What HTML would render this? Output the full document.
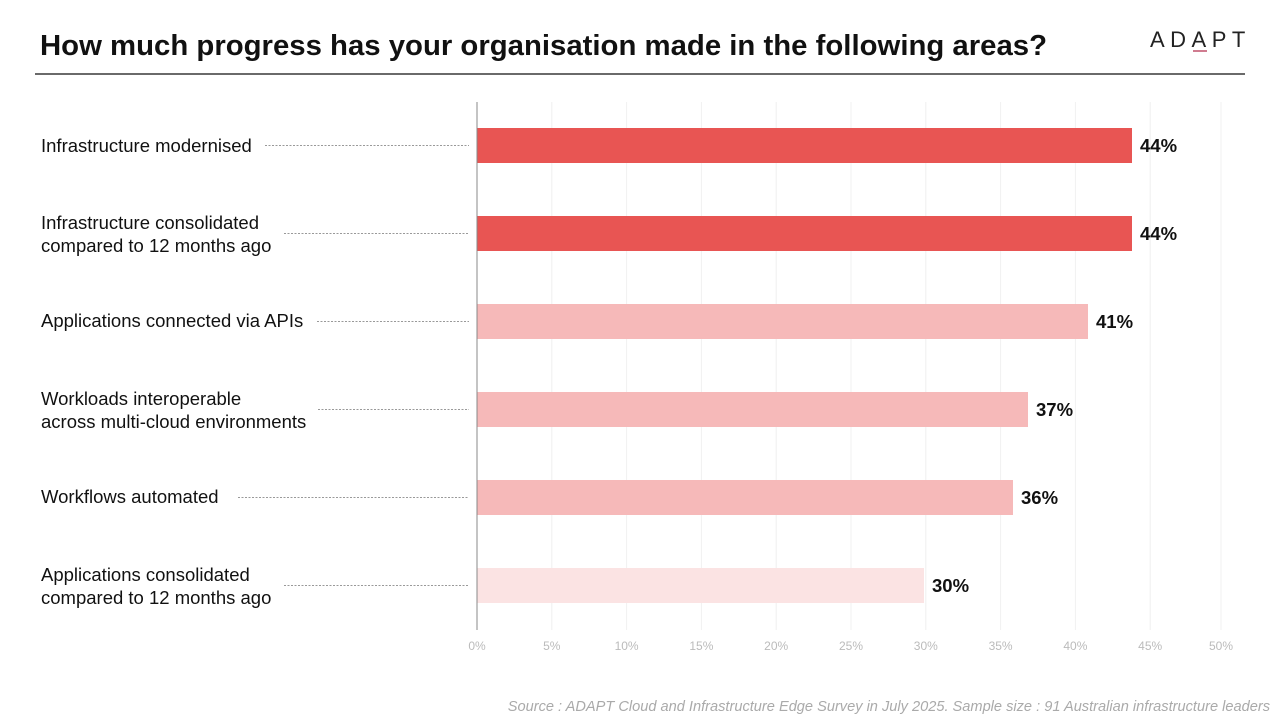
<!DOCTYPE html>
<html><head><style>body{margin:0;background:#fff}svg{display:block;font-family:"Liberation Sans",Arial,sans-serif}</style></head><body>
<svg width="1280" height="720" viewBox="0 0 1280 720">
<text x="40" y="55" font-size="29" font-weight="bold" fill="#111" textLength="1007" lengthAdjust="spacingAndGlyphs">How much progress has your organisation made in the following areas?</text>
<g font-size="22" fill="#222" letter-spacing="5.5"><text x="1150" y="47">ADAPT</text></g>
<line x1="1193" y1="51" x2="1207" y2="51" stroke="#c0506a" stroke-width="1.5"/>
<line x1="35" y1="74" x2="1245" y2="74" stroke="#111" stroke-width="1.3"/>
<g stroke="#f0f0f0" stroke-width="1">
<line x1="551.8" y1="102" x2="551.8" y2="630"/><line x1="626.6" y1="102" x2="626.6" y2="630"/><line x1="701.4" y1="102" x2="701.4" y2="630"/><line x1="776.2" y1="102" x2="776.2" y2="630"/><line x1="851" y1="102" x2="851" y2="630"/><line x1="925.8" y1="102" x2="925.8" y2="630"/><line x1="1000.6" y1="102" x2="1000.6" y2="630"/><line x1="1075.4" y1="102" x2="1075.4" y2="630"/><line x1="1150.2" y1="102" x2="1150.2" y2="630"/><line x1="1221" y1="102" x2="1221" y2="630"/>
</g>
<g>
<rect x="477" y="128" width="655" height="35" fill="#e85553"/>
<rect x="477" y="216" width="655" height="35" fill="#e85553"/>
<rect x="477" y="304" width="611" height="35" fill="#f6b9b9"/>
<rect x="477" y="392" width="551" height="35" fill="#f6b9b9"/>
<rect x="477" y="480" width="536" height="35" fill="#f6b9b9"/>
<rect x="477" y="568" width="447" height="35" fill="#fbe3e3"/>
</g>
<line x1="477" y1="102" x2="477" y2="630" stroke="#888" stroke-width="1"/>
<g font-size="18.5" font-weight="bold" fill="#111">
<text x="1140" y="152">44%</text><text x="1140" y="240">44%</text><text x="1096" y="328">41%</text><text x="1036" y="416">37%</text><text x="1021" y="504">36%</text><text x="932" y="592">30%</text>
</g>
<g font-size="18.5" fill="#111">
<text x="41" y="152">Infrastructure modernised</text>
<text x="41" y="229">Infrastructure consolidated</text><text x="41" y="252">compared to 12 months ago</text>
<text x="41" y="327">Applications connected via APIs</text>
<text x="41" y="405">Workloads interoperable</text><text x="41" y="428">across multi-cloud environments</text>
<text x="41" y="503">Workflows automated</text>
<text x="41" y="581">Applications consolidated</text><text x="41" y="604">compared to 12 months ago</text>
</g>
<g stroke="#999" stroke-width="1" stroke-dasharray="2,1.5">
<line x1="265" y1="145.5" x2="469" y2="145.5"/><line x1="284" y1="233.5" x2="469" y2="233.5"/><line x1="317" y1="321.5" x2="469" y2="321.5"/><line x1="318" y1="409.5" x2="469" y2="409.5"/><line x1="238" y1="497.5" x2="469" y2="497.5"/><line x1="284" y1="585.5" x2="469" y2="585.5"/>
</g>
<g font-size="12" fill="#bbb" text-anchor="middle">
<text x="477" y="650">0%</text><text x="551.8" y="650">5%</text><text x="626.6" y="650">10%</text><text x="701.4" y="650">15%</text><text x="776.2" y="650">20%</text><text x="851" y="650">25%</text><text x="925.8" y="650">30%</text><text x="1000.6" y="650">35%</text><text x="1075.4" y="650">40%</text><text x="1150.2" y="650">45%</text><text x="1221" y="650">50%</text>
</g>
<text x="1270" y="711" font-size="14.6" font-style="italic" fill="#aaa" text-anchor="end">Source : ADAPT Cloud and Infrastructure Edge Survey in July 2025. Sample size : 91 Australian infrastructure leaders</text>
</svg>
</body></html>
